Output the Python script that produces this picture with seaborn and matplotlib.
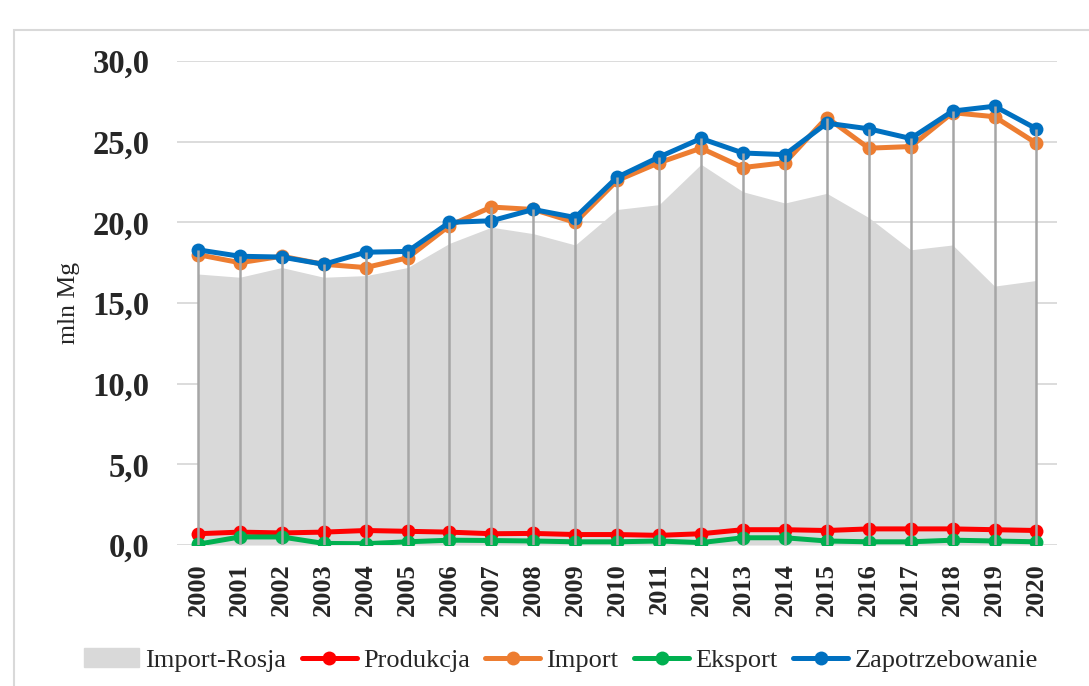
import matplotlib
matplotlib.use('Agg')
import matplotlib.pyplot as plt
import matplotlib.patches as mpatches
from matplotlib.ticker import FuncFormatter, MultipleLocator
import numpy as np
import pandas as pd
import seaborn as sns

years = list(range(2000, 2021))

import_rosja = [16.8, 16.6, 17.2, 16.6, 16.7, 17.2, 18.7, 19.7, 19.3, 18.6,
                20.8, 21.1, 23.6, 21.9, 21.2, 21.8, 20.3, 18.3, 18.6, 16.05, 16.4]
produkcja = [0.7, 0.8, 0.75, 0.8, 0.9, 0.85, 0.8, 0.7, 0.72, 0.65,
             0.65, 0.6, 0.7, 0.95, 0.95, 0.9, 1.0, 1.0, 1.0, 0.95, 0.9]
import_ = [18.0, 17.5, 17.9, 17.4, 17.2, 17.8, 19.8, 20.95, 20.8, 20.0,
           22.6, 23.7, 24.6, 23.4, 23.7, 26.5, 24.6, 24.7, 26.8, 26.55, 24.9]
eksport = [0.05, 0.5, 0.5, 0.1, 0.08, 0.2, 0.3, 0.28, 0.25, 0.2,
           0.2, 0.25, 0.15, 0.45, 0.45, 0.25, 0.2, 0.2, 0.3, 0.25, 0.2]
zapotrzebowanie = [18.3, 17.9, 17.85, 17.4, 18.15, 18.2, 20.0, 20.1, 20.8, 20.3,
                   22.8, 24.05, 25.2, 24.3, 24.2, 26.15, 25.8, 25.2, 26.9, 27.2, 25.8]

df = pd.DataFrame({
    'idx': np.arange(len(years)),
    'Import-Rosja': import_rosja,
    'Produkcja': produkcja,
    'Import': import_,
    'Eksport': eksport,
    'Zapotrzebowanie': zapotrzebowanie,
})

colors = {
    'Produkcja': '#FF0000',
    'Import': '#ED7D31',
    'Eksport': '#00B050',
    'Zapotrzebowanie': '#0070C0',
}

sns.set_style('white')
plt.rcParams['font.family'] = ['Liberation Serif', 'DejaVu Serif']

fig = plt.figure(figsize=(10.89, 6.86), dpi=100)
ax = fig.add_axes([0.1625, 0.2055, 0.8085, 0.7055])

# outer chart border
fig.patches.append(mpatches.Rectangle((14 / 1089, -0.01), 1.1, 1 - 30 / 686 + 0.01,
                                      transform=fig.transFigure, fill=False,
                                      edgecolor='#D9D9D9', linewidth=1.5))

ax.fill_between(df['idx'], 0, df['Import-Rosja'], color='#D9D9D9', linewidth=0, zorder=1)

for name in ['Produkcja', 'Import', 'Eksport', 'Zapotrzebowanie']:
    sns.lineplot(data=df, x='idx', y=name, ax=ax, color=colors[name], linewidth=3.6,
                 marker='o', markersize=10, markeredgewidth=0, label=name, zorder=3)

# drop lines
top = np.maximum(df['Import'], df['Zapotrzebowanie'])
ax.vlines(df['idx'], 0, top, color='#A6A6A6', linewidth=1.8, zorder=4)

ax.set_xlim(-0.5, len(years) - 0.5)
ax.set_ylim(0, 30)
ax.yaxis.set_major_locator(MultipleLocator(5))
ax.yaxis.set_major_formatter(FuncFormatter(lambda v, p: f'{v:.1f}'.replace('.', ',')))
ax.set_xticks(df['idx'])
ax.set_xticklabels([str(y) for y in years], rotation=90, fontsize=19, fontweight='bold')
for lbl in ax.get_yticklabels():
    lbl.set_fontsize(23.5)
    lbl.set_fontweight('bold')
ax.tick_params(axis='both', length=0)
ax.tick_params(axis='x', pad=13)
ax.tick_params(axis='y', pad=20)
ax.grid(axis='y', color='#D9D9D9', linewidth=1.3, zorder=0)
ax.set_axisbelow(True)
for s in ax.spines.values():
    s.set_visible(False)

ax.set_xlabel('')
ax.set_ylabel('mln Mg', fontsize=18.5)
ax.yaxis.set_label_coords(-0.11, 0.5)

handles, labels = ax.get_legend_handles_labels()
area_patch = mpatches.Patch(color='#D9D9D9', label='Import-Rosja')
ax.legend([area_patch] + handles, ['Import-Rosja'] + labels, ncol=5,
          loc='center', bbox_to_anchor=(0.515, 1 - 660 / 686), bbox_transform=fig.transFigure,
          frameon=False, fontsize=19, handlelength=2.08, handletextpad=0.23,
          columnspacing=0.6)

fig.savefig('out.png', dpi=100)
